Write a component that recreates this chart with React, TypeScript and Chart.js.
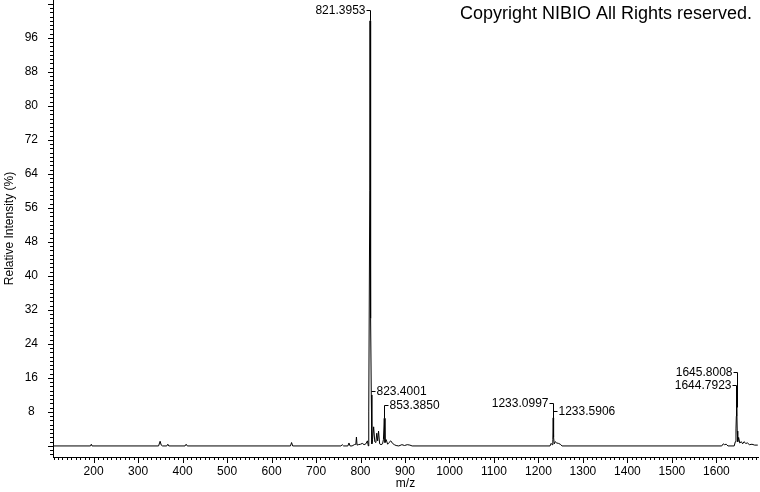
import { useEffect, useRef } from 'react';
import { Chart, registerables } from 'chart.js';

Chart.register(...registerables);

// Spectrum (m/z, relative intensity %)
const MZ = [
  110, 193, 194.8, 196.5, 346, 349.5, 352, 355, 364.5, 366.8, 369, 405.5, 408, 410.5,
  642.5, 645, 647.5, 756, 759, 762, 771.5, 774, 776.5, 781, 786, 789.5, 790.8, 792.2,
  795, 800, 804, 808, 812, 815.5, 817.5, 818.5, 820.8, 821.4, 821.9, 822.4, 823.0, 823.4,
  824.2, 825.5, 827, 829.5, 832, 834.5, 836.5, 838.5, 840.5, 843, 846, 849.5, 851.5,
  853.4, 855, 857.5, 861, 864, 868, 872, 876, 880, 886, 893, 899, 905, 911, 916,
  1226, 1228.5, 1230.5, 1232.3, 1233.1, 1233.6, 1234.4, 1235.5, 1238, 1241, 1245, 1249, 1253,
  1612, 1615.5, 1618, 1622, 1626, 1640, 1642.5, 1644.0, 1644.8, 1645.8, 1646.8, 1648,
  1650, 1652.5, 1656, 1659, 1662, 1666, 1670, 1674, 1680, 1686, 1693,
];
const INTENSITY = [
  0, 0, 0.4, 0, 0, 1.1, 0.2, 0, 0, 0.4, 0, 0, 0.4, 0,
  0, 0.8, 0, 0, 0.3, 0, 0, 0.7, 0, 0, 0.3, 0.4, 2.1, 0.2,
  0.3, 0.4, 0.6, 0.3, 0.5, 1.2, 0, 8, 60, 100, 52, 76, 45, 30,
  12, 0.5, 1.5, 4.5, 1, 0.8, 3, 1.2, 3.5, 0.5, 0.3, 0.5, 1.5,
  6.5, 0.8, 1.5, 0.4, 0.8, 1.2, 0.6, 0.3, 0.1, 0, 0.3, 0.1, 0.3, 0.2, 0,
  0, 0.6, 0.3, 1.5, 6.6, 5, 2, 0.5, 1, 0.7, 0.6, 0.4, 0,
  0, 0.5, 0.3, 0.4, 0, 0, 1, 4, 7, 9, 3.5, 1,
  2, 0.7, 1, 0.5, 1, 0.6, 0.7, 0.3, 0.4, 0.2, 0.2,
];

const X_TICKS = [200, 300, 400, 500, 600, 700, 800, 900, 1000, 1100, 1200, 1300, 1400, 1500, 1600];
const Y_TICKS = [8, 16, 24, 32, 40, 48, 56, 64, 72, 80, 88, 96];

// Peak annotations
const PEAK_MZ = [821.3953, 823.4001, 853.385, 1233.0997, 1233.5906, 1645.8008, 1644.7923];
const PEAK_TEXT = ['821.3953', '823.4001', '853.3850', '1233.0997', '1233.5906', '1645.8008', '1644.7923'];
const LABEL_LEVEL = [102.6, 12.9, 9.6, 10.1, 8.2, 17.4, 14.4];
const LABEL_SIDE = ['left', 'right', 'right', 'left', 'right', 'left', 'left'];

const FONT_FAMILY = '"Liberation Sans", Arial, sans-serif';

function apexOf(mz: number): number {
  let best = 0;
  let bestD = Infinity;
  MZ.forEach((m, i) => {
    const d = Math.abs(m - mz);
    if (d < bestD) {
      bestD = d;
      best = INTENSITY[i];
    }
  });
  return best;
}

const overlayPlugin = {
  id: 'overlay',
  afterDraw(chart: any) {
    const { ctx, chartArea } = chart;
    const x = chart.scales.x;
    const y = chart.scales.y;
    const px = (v: number) => Math.round(v) + 0.5;
    ctx.save();
    ctx.strokeStyle = '#000';
    ctx.lineWidth = 1;
    ctx.beginPath();
    for (let v = Math.ceil(y.min); v <= Math.floor(y.max); v++) {
      const yy = px(y.getPixelForValue(v));
      const len = v % 8 === 0 ? 5 : 3;
      ctx.moveTo(chartArea.left - len, yy);
      ctx.lineTo(chartArea.left, yy);
    }
    for (let v = Math.ceil(x.min / 10) * 10; v <= x.max; v += 10) {
      const xx = px(x.getPixelForValue(v));
      const len = v % 100 === 0 ? 6 : 3;
      ctx.moveTo(xx, chartArea.bottom);
      ctx.lineTo(xx, chartArea.bottom + len);
    }
    ctx.stroke();

    ctx.font = '12px ' + FONT_FAMILY;
    ctx.fillStyle = '#000';
    ctx.textBaseline = 'middle';
    PEAK_MZ.forEach((mz, i) => {
      const xp = px(x.getPixelForValue(mz));
      const ly = px(y.getPixelForValue(LABEL_LEVEL[i]));
      const ay = y.getPixelForValue(apexOf(mz));
      const dir = LABEL_SIDE[i] === 'left' ? -1 : 1;
      ctx.beginPath();
      ctx.moveTo(xp + dir * 4, ly);
      ctx.lineTo(xp, ly);
      ctx.lineTo(xp, Math.max(ly, ay));
      ctx.stroke();
      ctx.textAlign = dir < 0 ? 'right' : 'left';
      ctx.fillText(PEAK_TEXT[i], xp + dir * 5, ly);
    });

    ctx.font = '18px ' + FONT_FAMILY;
    ctx.textAlign = 'right';
    ctx.fillText('Copyright NIBIO All Rights reserved.', 752, 14);
    ctx.restore();
  },
};

export default function App() {
  const ref = useRef<HTMLCanvasElement>(null);
  useEffect(() => {
    document.body.style.margin = '0';
    const canvas = ref.current;
    if (!canvas) return;
    const font = { family: FONT_FAMILY, size: 12 };
    const chart = new Chart(canvas, {
      type: 'line',
      data: {
        datasets: [
          {
            data: MZ.map((m, i) => ({ x: m, y: INTENSITY[i] })),
            borderColor: '#000',
            borderWidth: 1,
            pointRadius: 0,
            tension: 0,
            fill: false,
          },
        ],
      },
      options: {
        animation: false,
        responsive: false,
        events: [],
        layout: { padding: { left: 0, right: 2, top: 0, bottom: 0 } },
        plugins: { legend: { display: false }, tooltip: { enabled: false } },
        scales: {
          x: {
            type: 'linear',
            min: 108.7,
            max: 1693.5,
            afterBuildTicks: (s: any) => {
              s.ticks = X_TICKS.map((v) => ({ value: v }));
            },
            afterFit: (s: any) => {
              s.height = 35;
              s.paddingLeft = 0;
              s.paddingRight = 0;
            },
            grid: { display: true, drawOnChartArea: false, drawTicks: false },
            border: { display: true, color: '#000', width: 1 },
            ticks: {
              padding: 7,
              font,
              color: '#000',
              maxRotation: 0,
              autoSkip: false,
              callback: (v: any) => String(v),
            },
            title: { display: true, text: 'm/z', padding: { top: 0, bottom: 1 }, font, color: '#000' },
          },
          y: {
            type: 'linear',
            min: -2.6,
            max: 104.9,
            afterBuildTicks: (s: any) => {
              s.ticks = Y_TICKS.map((v) => ({ value: v }));
            },
            afterFit: (s: any) => {
              s.width = 53;
              s.paddingTop = 0;
              s.paddingBottom = 0;
            },
            grid: { display: true, drawOnChartArea: false, drawTicks: false },
            border: { display: true, color: '#000', width: 1 },
            ticks: {
              padding: 15,
              crossAlign: 'center',
              font,
              color: '#000',
              autoSkip: false,
              callback: (v: any) => String(v),
            },
            title: {
              display: true,
              text: 'Relative Intensity (%)',
              padding: { top: 2, bottom: 0 },
              font,
              color: '#000',
            },
          },
        },
      } as any,
      plugins: [overlayPlugin],
    });
    return () => chart.destroy();
  }, []);
  return (
    <div style={{ width: 760, height: 492, background: '#fff' }}>
      <canvas ref={ref} width={760} height={492} style={{ display: 'block' }} />
    </div>
  );
}
